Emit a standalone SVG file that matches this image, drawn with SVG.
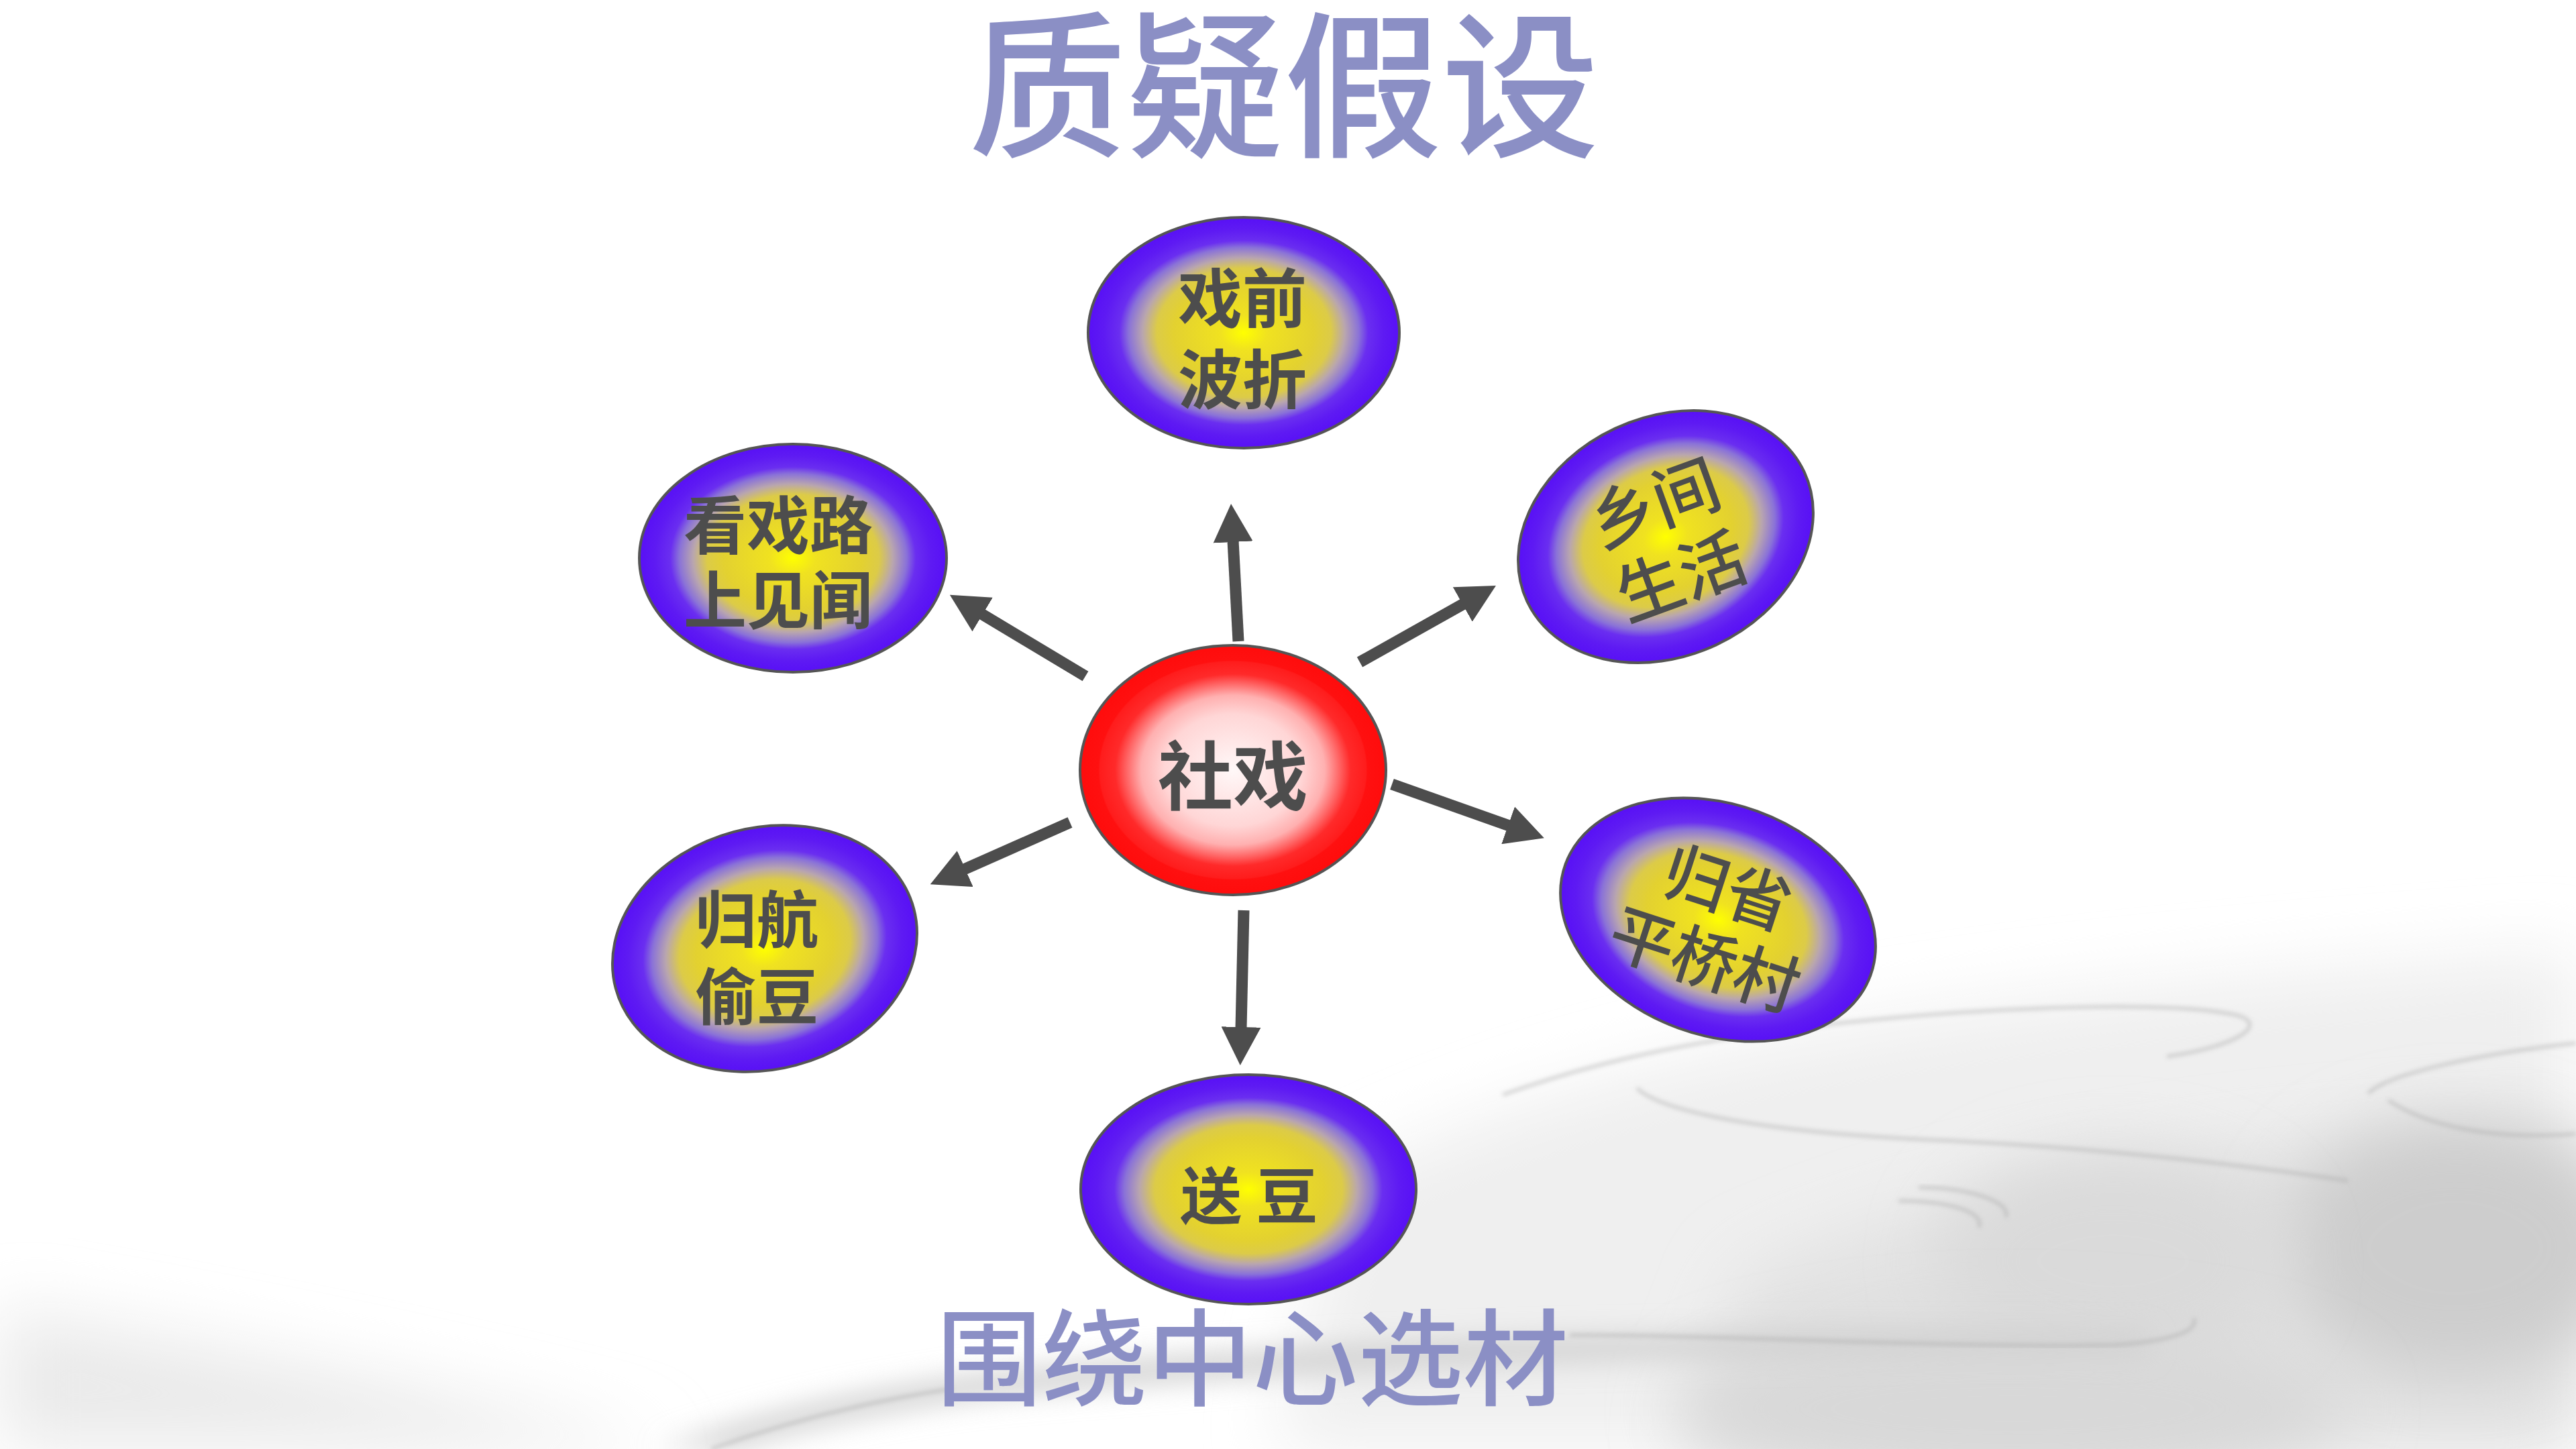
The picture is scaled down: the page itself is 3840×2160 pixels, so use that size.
<svg xmlns="http://www.w3.org/2000/svg" width="3840" height="2160" viewBox="0 0 3840 2160">
<defs>
<style>
.lbl{font-family:"Noto Sans CJK SC","Noto Sans",sans-serif;fill:#4d4d4d;text-anchor:middle;font-weight:700}
.lblr{font-family:"Noto Sans CJK SC","Noto Sans",sans-serif;fill:#4d4d4d;text-anchor:middle;font-weight:500}
.head{font-family:"Noto Sans CJK SC","Noto Sans",sans-serif;fill:#8b8fc5;text-anchor:middle;font-weight:500}
.node{fill:url(#gBlue);stroke:#555555;stroke-width:4}
.conn{stroke:#4d4d4d;stroke-width:17;fill:none;marker-end:url(#arr)}
.rip{fill:none;stroke:#a9a9a9;stroke-width:5;opacity:0.5;filter:url(#bl3)}
</style>
<radialGradient id="gBlue" cx="0.5" cy="0.5" r="0.5">
<stop offset="0" stop-color="#ffff00"/>
<stop offset="0.15" stop-color="#f0e220"/>
<stop offset="0.45" stop-color="#e3d130"/>
<stop offset="0.56" stop-color="#dccb48"/>
<stop offset="0.65" stop-color="#b9a6ae"/>
<stop offset="0.74" stop-color="#8a72d8"/>
<stop offset="0.8" stop-color="#6a2ef0"/>
<stop offset="0.9" stop-color="#5e1af3"/>
<stop offset="1" stop-color="#5810f6"/>
</radialGradient>
<radialGradient id="gRed" cx="0.5" cy="0.5" r="0.5">
<stop offset="0" stop-color="#fff8f8"/>
<stop offset="0.45" stop-color="#ffd6d6"/>
<stop offset="0.6" stop-color="#ffb0b0"/>
<stop offset="0.7" stop-color="#ff6262"/>
<stop offset="0.77" stop-color="#ff2a2a"/>
<stop offset="0.87" stop-color="#ff1c1c"/>
<stop offset="0.88" stop-color="#ff1010"/>
<stop offset="1" stop-color="#ff0c0c"/>
</radialGradient>
<marker id="arr" viewBox="0 0 57 59" refX="2" refY="29.5" markerWidth="57" markerHeight="59" markerUnits="userSpaceOnUse" orient="auto">
<path d="M0,0 L57,29.5 L0,59 Z" fill="#4d4d4d"/>
</marker>
<filter id="bl50" x="-50%" y="-50%" width="200%" height="200%"><feGaussianBlur stdDeviation="50"/></filter>
<filter id="bl20" x="-50%" y="-50%" width="200%" height="200%"><feGaussianBlur stdDeviation="20"/></filter>
<filter id="bl3" x="-10%" y="-10%" width="120%" height="120%"><feGaussianBlur stdDeviation="3"/></filter>
</defs>

<rect x="0" y="0" width="3840" height="2160" fill="#ffffff"/>

<g id="background">
<path d="M2000 1760 C2400 1560 2900 1480 3840 1420 L3840 2160 L1900 2160 Z" fill="#efefef" filter="url(#bl50)"/>
<path d="M2600 1900 C2900 1760 3300 1700 3840 1680 L3840 2160 L2500 2160 Z" fill="#e2e2e2" filter="url(#bl50)"/>
<ellipse cx="3660" cy="1860" rx="260" ry="190" fill="#cdcdcd" filter="url(#bl50)"/>
<ellipse cx="3150" cy="1880" rx="260" ry="160" fill="#dadada" filter="url(#bl50)"/>
<ellipse cx="3000" cy="2100" rx="500" ry="120" fill="#d8d8d8" filter="url(#bl50)"/>
<path d="M0 1950 C300 2000 700 2080 1000 2160 L0 2160 Z" fill="#eaeaea" filter="url(#bl50)"/>
<path d="M980 2160 C1150 2100 1300 2070 1450 2050 C1800 2010 2300 1980 3200 1990 L3200 2015 C2400 2015 1800 2050 1450 2085 C1300 2105 1150 2140 1100 2160 Z" fill="#d0d0d0" filter="url(#bl20)"/>
<path class="rip" d="M2240 1632 C2330 1600 2460 1560 2700 1530 C2950 1500 3250 1490 3340 1515 C3380 1530 3330 1560 3230 1575"/>
<path class="rip" d="M2440 1622 C2480 1660 2650 1690 2900 1700 C3100 1710 3300 1730 3500 1760"/>
<path class="rip" d="M2860 1770 C2930 1770 3000 1790 2990 1815 M2830 1790 C2900 1790 2960 1805 2950 1830"/>
<path class="rip" d="M2340 1990 C2600 1990 2900 2010 3150 2005 C3230 2000 3280 1985 3270 1965"/>
<path class="rip" d="M3530 1630 C3560 1600 3700 1570 3840 1555 M3560 1640 C3620 1680 3720 1700 3840 1690"/>
<path class="rip" d="M1060 2160 C1200 2110 1320 2085 1420 2070"/>
</g>

<text id="title" class="head" x="1914" y="216" font-size="235">质疑假设</text>

<g id="connectors">
<line class="conn" x1="1846" y1="956" x2="1838" y2="806"/>
<line class="conn" x1="1618" y1="1008" x2="1463" y2="915"/>
<line class="conn" x1="2027" y1="987" x2="2182" y2="900"/>
<line class="conn" x1="2075" y1="1169" x2="2250" y2="1231"/>
<line class="conn" x1="1595" y1="1226" x2="1437" y2="1296"/>
<line class="conn" x1="1854" y1="1357" x2="1850" y2="1533"/>
</g>

<g id="node-center">
<ellipse cx="1838" cy="1148" rx="228" ry="186" fill="url(#gRed)" stroke="#555555" stroke-width="4"/>
<text class="lbl" x="1838" y="1199" font-size="112">社戏</text>
</g>

<g id="node-top">
<ellipse class="node" cx="1854" cy="496" rx="232" ry="172"/>
<text class="lbl" font-size="96"><tspan x="1852" y="480">戏前</tspan><tspan x="1852" y="601">波折</tspan></text>
</g>

<g id="node-upper-left">
<ellipse class="node" cx="1182" cy="832" rx="229" ry="170"/>
<text class="lbl" font-size="94"><tspan x="1160" y="818">看戏路</tspan><tspan x="1160" y="930">上见闻</tspan></text>
</g>

<g id="node-upper-right">
<ellipse class="node" cx="0" cy="0" rx="228" ry="178" transform="translate(2483 800) rotate(-25)"/>
<text class="lblr" font-size="99" transform="translate(2487 807) rotate(-20)"><tspan x="0" y="-24">乡间</tspan><tspan x="0" y="92">生活</tspan></text>
</g>

<g id="node-right">
<ellipse class="node" cx="0" cy="0" rx="242" ry="172" transform="translate(2561 1371) rotate(20)"/>
<text class="lblr" font-size="97" transform="translate(2558 1379) rotate(18)"><tspan x="0" y="-22">归省</tspan><tspan x="0" y="90">平桥村</tspan></text>
</g>

<g id="node-lower-left">
<ellipse class="node" cx="0" cy="0" rx="230" ry="180" transform="translate(1140 1414) rotate(-15)"/>
<text class="lbl" font-size="92"><tspan x="1128" y="1405">归航</tspan><tspan x="1128" y="1520">偷豆</tspan></text>
</g>

<g id="node-bottom">
<ellipse class="node" cx="1861" cy="1773" rx="250" ry="171"/>
<text class="lbl" x="1862" y="1817" font-size="92">送 豆</text>
</g>

<text id="subtitle" class="head" x="1867" y="2083" font-size="157">围绕中心选材</text>
</svg>
